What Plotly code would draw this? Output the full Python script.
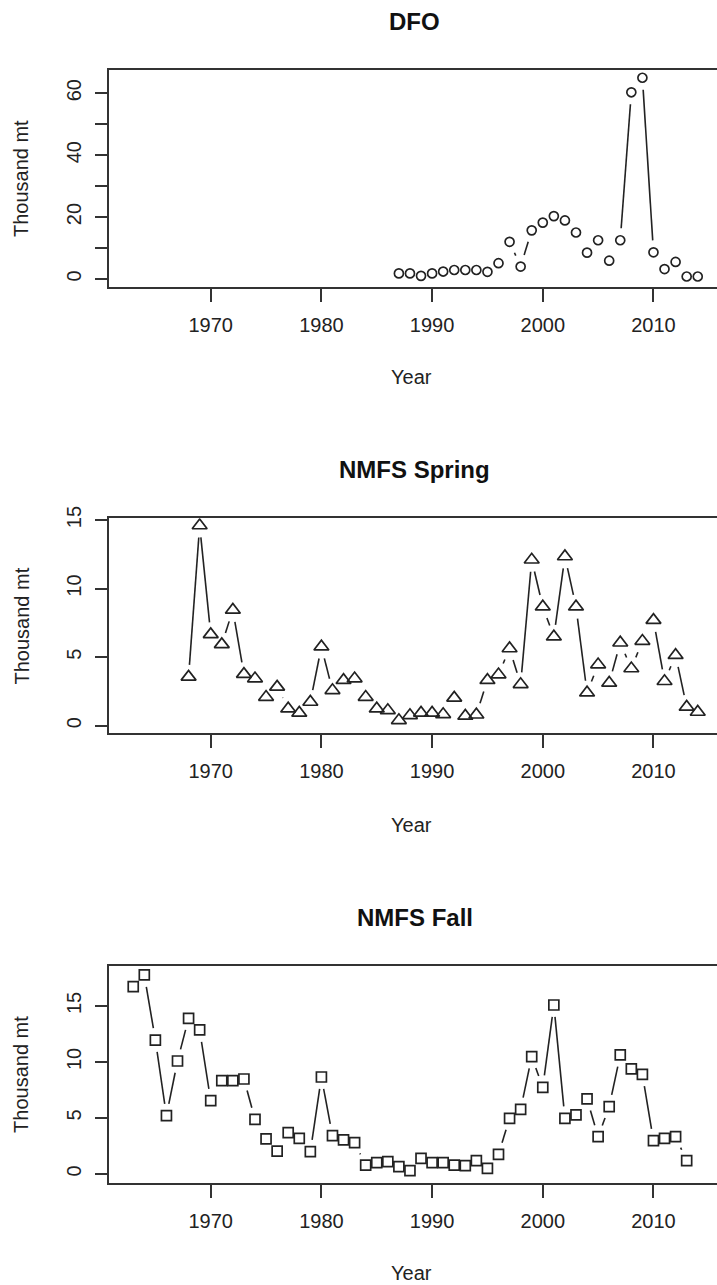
import math
import plotly.graph_objects as go

# ---------------- data ----------------
dfo_years = list(range(1987, 2015))
dfo_values = [1.8, 1.8, 1.0, 1.8, 2.4, 2.9, 2.9, 2.9, 2.3, 5.1, 12.0, 4.0, 15.7, 18.2,
              20.3, 18.9, 15.0, 8.5, 12.5, 5.9, 12.5, 60.3, 65.0, 8.6, 3.2, 5.5, 0.8, 0.8]

spring_years = list(range(1968, 2015))
spring_values = [3.56, 14.6, 6.66, 5.93, 8.44, 3.76, 3.44, 2.09, 2.83, 1.24, 0.93, 1.73,
                 5.76, 2.58, 3.32, 3.44, 2.09, 1.24, 1.12, 0.39, 0.76, 0.93, 0.93, 0.83,
                 2.03, 0.71, 0.80, 3.32, 3.73, 5.63, 3.02, 12.1, 8.68, 6.49, 12.34, 8.68,
                 2.41, 4.46, 3.12, 6.05, 4.17, 6.17, 7.70, 3.24, 5.14, 1.37, 1.00]

fall_years = list(range(1963, 2014))
fall_values = [16.72, 17.77, 11.96, 5.21, 10.09, 13.9, 12.86, 6.55, 8.33, 8.33, 8.48,
               4.88, 3.13, 2.05, 3.69, 3.18, 1.99, 8.66, 3.42, 3.04, 2.80, 0.80, 1.01,
               1.10, 0.65, 0.30, 1.40, 1.01, 1.01, 0.80, 0.74, 1.19, 0.51, 1.76, 4.97,
               5.77, 10.47, 7.74, 15.09, 4.97, 5.27, 6.70, 3.33, 6.01, 10.63, 9.38, 8.90,
               2.98, 3.18, 3.33, 1.19]

titles = ["DFO", "NMFS Spring", "NMFS Fall"]
x_ticks = [1970, 1980, 1990, 2000, 2010]
dfo_yticks = [0, 10, 20, 30, 40, 50, 60]
dfo_yticktext = ["0", "", "20", "", "40", "", "60"]
nmfs_yticks = [0, 5, 10, 15]
nmfs_yticktext = ["0", "5", "10", "15"]

# ---------------- layout geometry ----------------
W, H = 717, 1285
PLOT_LEFT, PLOT_RIGHT = 109, 717
XRANGE = [1960.81, 2015.74]
panels = [
    dict(top=70.0, bottom=286.7, yrange=[-2.5, 67.5], x=dfo_years, y=dfo_values,
         symbol="circle-open", size=9, tv=dfo_yticks, tt=dfo_yticktext),
    dict(top=518.3, bottom=733.3, yrange=[-0.554, 15.124], x=spring_years, y=spring_values,
         symbol="triangle-up-open", size=13, tv=nmfs_yticks, tt=nmfs_yticktext),
    dict(top=966.0, bottom=1182.5, yrange=[-0.76, 18.57], x=fall_years, y=fall_values,
         symbol="square-open", size=10, tv=nmfs_yticks, tt=nmfs_yticktext),
]

INK = "#222222"
AX = "#333333"
FONT = "Liberation Sans, Arial, sans-serif"


def gapped_segments(xs, ys, xr, yr, wpx, hpx, gap=12.0):
    """Emulate R type='b': line segments shortened near the points."""
    sx = wpx / (xr[1] - xr[0])
    sy = hpx / (yr[1] - yr[0])
    X, Y = [], []
    for i in range(len(xs) - 1):
        dx = (xs[i + 1] - xs[i]) * sx
        dy = (ys[i + 1] - ys[i]) * sy
        L = math.hypot(dx, dy)
        if L > 2 * gap:
            f = gap / L
            X += [xs[i] + (xs[i + 1] - xs[i]) * f, xs[i + 1] - (xs[i + 1] - xs[i]) * f, None]
            Y += [ys[i] + (ys[i + 1] - ys[i]) * f, ys[i + 1] - (ys[i + 1] - ys[i]) * f, None]
    return X, Y


fig = go.Figure()
annotations = []
wpx = PLOT_RIGHT - PLOT_LEFT
for i, p in enumerate(panels):
    n = "" if i == 0 else str(i + 1)
    xa, ya = "x" + n, "y" + n
    hpx = p["bottom"] - p["top"]
    sx, sy = gapped_segments(p["x"], p["y"], XRANGE, p["yrange"], wpx, hpx)
    fig.add_trace(go.Scatter(x=sx, y=sy, mode="lines", xaxis=xa, yaxis=ya,
                             line=dict(color=INK, width=1.6), showlegend=False,
                             hoverinfo="skip"))
    fig.add_trace(go.Scatter(x=p["x"], y=p["y"], mode="markers", xaxis=xa, yaxis=ya,
                             marker=dict(symbol=p["symbol"], size=p["size"], color=INK,
                                         line=dict(color=INK, width=1.7)),
                             showlegend=False))
    dom_y = [1 - p["bottom"] / H, 1 - p["top"] / H]
    fig.layout["xaxis" + n] = dict(
        domain=[PLOT_LEFT / W, PLOT_RIGHT / W], range=XRANGE, anchor=ya,
        tickvals=x_ticks, ticks="outside", ticklen=13, tickwidth=1.5, tickcolor=AX,
        showline=True, mirror=True, linecolor=AX, linewidth=2, showgrid=False,
        zeroline=False, tickfont=dict(family=FONT, size=20, color=INK),
        ticklabelstandoff=6, automargin=False)
    fig.layout["yaxis" + n] = dict(
        domain=dom_y, range=p["yrange"], anchor=xa,
        tickvals=p["tv"], ticktext=p["tt"], ticks="outside", ticklen=12, tickwidth=1.5,
        tickcolor=AX, showline=True, mirror=False, linecolor=AX, linewidth=2,
        showgrid=False, zeroline=False, tickangle=-90,
        tickfont=dict(family=FONT, size=20, color=INK), ticklabelstandoff=6,
        automargin=False)
    off = i * 448.0
    cx = (PLOT_LEFT + 720) / 2
    annotations.append(dict(text="<b>%s</b>" % titles[i], x=cx / W, y=1 - (21 + off) / H,
                            xref="paper", yref="paper", showarrow=False,
                            xanchor="center", yanchor="middle",
                            font=dict(family=FONT, size=24, color="#111111")))
    annotations.append(dict(text="Year", x=412 / W, y=1 - (377 + off) / H,
                            xref="paper", yref="paper", showarrow=False,
                            xanchor="center", yanchor="middle",
                            font=dict(family=FONT, size=20, color=INK)))
    annotations.append(dict(text="Thousand mt", x=21.7 / W,
                            y=1 - ((p["top"] + p["bottom"]) / 2) / H,
                            xref="paper", yref="paper", showarrow=False, textangle=-90,
                            xanchor="center", yanchor="middle",
                            font=dict(family=FONT, size=20, color=INK)))

fig.update_layout(width=W, height=H, margin=dict(l=0, r=0, t=0, b=0),
                  paper_bgcolor="white", plot_bgcolor="white",
                  annotations=annotations, showlegend=False)
fig.write_html("out.html",
               config={"displayModeBar": False},
               post_script="document.body.style.margin='0';"
                           "document.body.style.overflow='hidden';"
                           "document.documentElement.style.overflow='hidden';")
